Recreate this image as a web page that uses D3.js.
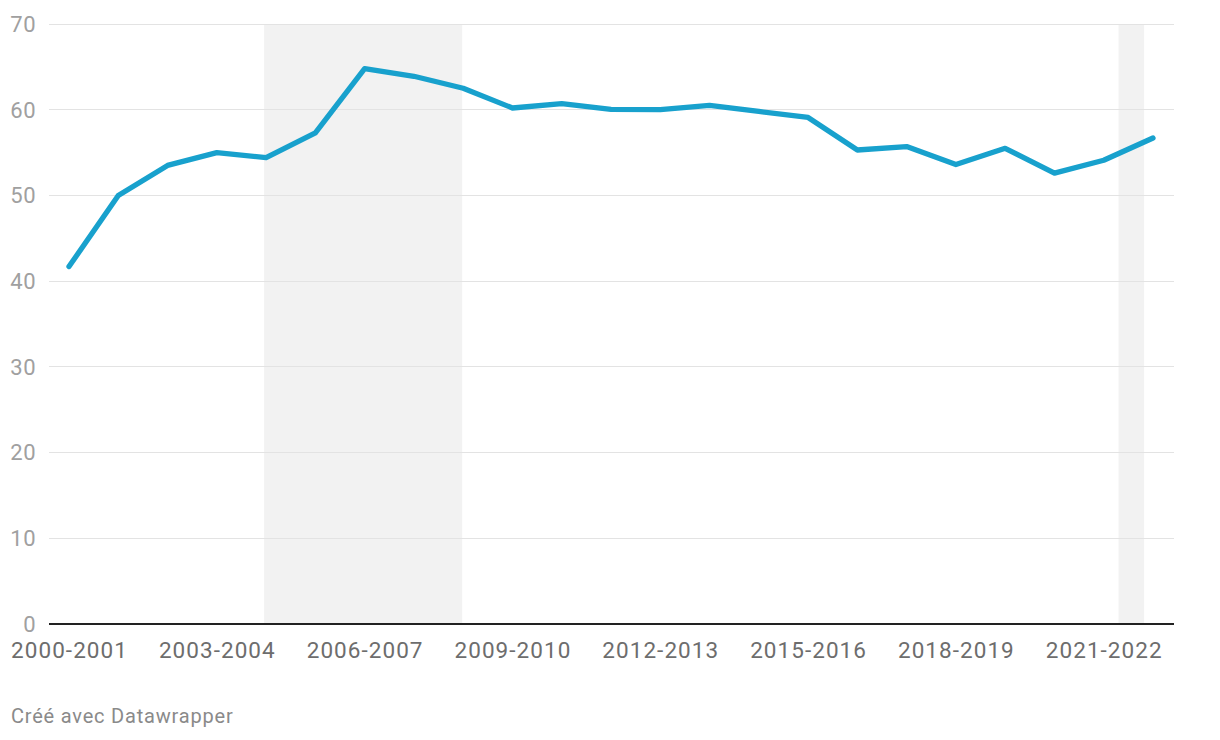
<!DOCTYPE html>
<html>
<head>
<meta charset="utf-8">
<script src="https://cdn.jsdelivr.net/npm/d3@7"></script>
<style>
  html, body { margin: 0; padding: 0; background: #fff; }
  svg { display: block; font-family: Roboto, "Noto Sans", sans-serif; }
</style>
</head>
<body>
<svg id="chart" width="1220" height="740"></svg>
<script>
const categories = ["2000-2001","2001-2002","2002-2003","2003-2004","2004-2005","2005-2006","2006-2007","2007-2008","2008-2009","2009-2010","2010-2011","2011-2012","2012-2013","2013-2014","2014-2015","2015-2016","2016-2017","2017-2018","2018-2019","2019-2020","2020-2021","2021-2022","2022-2023"];
const values = [41.7, 50.0, 53.5, 55.0, 54.4, 57.3, 64.8, 63.9, 62.5, 60.2, 60.7, 60.05, 60.0, 60.5, 59.8, 59.1, 55.3, 55.7, 53.6, 55.5, 52.6, 54.1, 56.7];
const xTickLabels = ["2000-2001","2003-2004","2006-2007","2009-2010","2012-2013","2015-2016","2018-2019","2021-2022"];
const yTicks = [0, 10, 20, 30, 40, 50, 60, 70];
// shaded periods, as fractional positions along the category index
const shadeStart = [3.96, 21.3];
const shadeEnd = [7.98, 21.82];

(function () {
const svg = d3.select("#chart");
const mLeft = 49, mRight = 1174, mTop = 24, mBottom = 624;
const x = d3.scaleLinear().domain([0, categories.length - 1]).range([69, 1153]);
const y = d3.scaleLinear().domain([0, 70]).range([mBottom, mTop]);

// shaded bands
svg.append("g").selectAll("rect").data(shadeStart).join("rect")
  .attr("x", (d) => x(d))
  .attr("width", (d, i) => x(shadeEnd[i]) - x(d))
  .attr("y", mTop)
  .attr("height", mBottom - mTop)
  .attr("fill", "#f2f2f2");

// gridlines
svg.append("g").selectAll("line").data(yTicks.filter(d => d > 0)).join("line")
  .attr("x1", mLeft).attr("x2", mRight)
  .attr("y1", d => y(d)).attr("y2", d => y(d))
  .attr("stroke", "#e3e3e3").attr("stroke-width", 1)
  .attr("shape-rendering", "crispEdges");

// y labels
svg.append("g").selectAll("text").data(yTicks).join("text")
  .attr("x", 36).attr("y", d => y(d))
  .attr("dy", "0.36em")
  .attr("text-anchor", "end")
  .attr("font-size", 22)
  .attr("letter-spacing", 0.5)
  .attr("fill", "#a0a0a0")
  .text(d => d);

// baseline
svg.append("line")
  .attr("x1", mLeft).attr("x2", mRight)
  .attr("y1", y(0)).attr("y2", y(0))
  .attr("stroke", "#222").attr("stroke-width", 2);

// x labels
svg.append("g").selectAll("text").data(xTickLabels).join("text")
  .attr("x", d => x(categories.indexOf(d)) + 0.5)
  .attr("y", 650)
  .attr("dy", "0.36em")
  .attr("text-anchor", "middle")
  .attr("font-size", 22.5)
  .attr("letter-spacing", 1.05)
  .attr("fill", "#6d6d6d")
  .text(d => d);

// line
const line = d3.line().x((d, i) => x(i)).y(d => y(d));
svg.append("path").datum(values)
  .attr("d", line)
  .attr("fill", "none")
  .attr("stroke", "#18a1cd")
  .attr("stroke-width", 5.3)
  .attr("stroke-linejoin", "round")
  .attr("stroke-linecap", "round");

// footer
svg.append("text")
  .attr("x", 11).attr("y", 723)
  .attr("font-size", 20)
  .attr("letter-spacing", 0.8)
  .attr("fill", "#8a8a8a")
  .text("Créé avec Datawrapper");
})();
</script>
</body>
</html>
